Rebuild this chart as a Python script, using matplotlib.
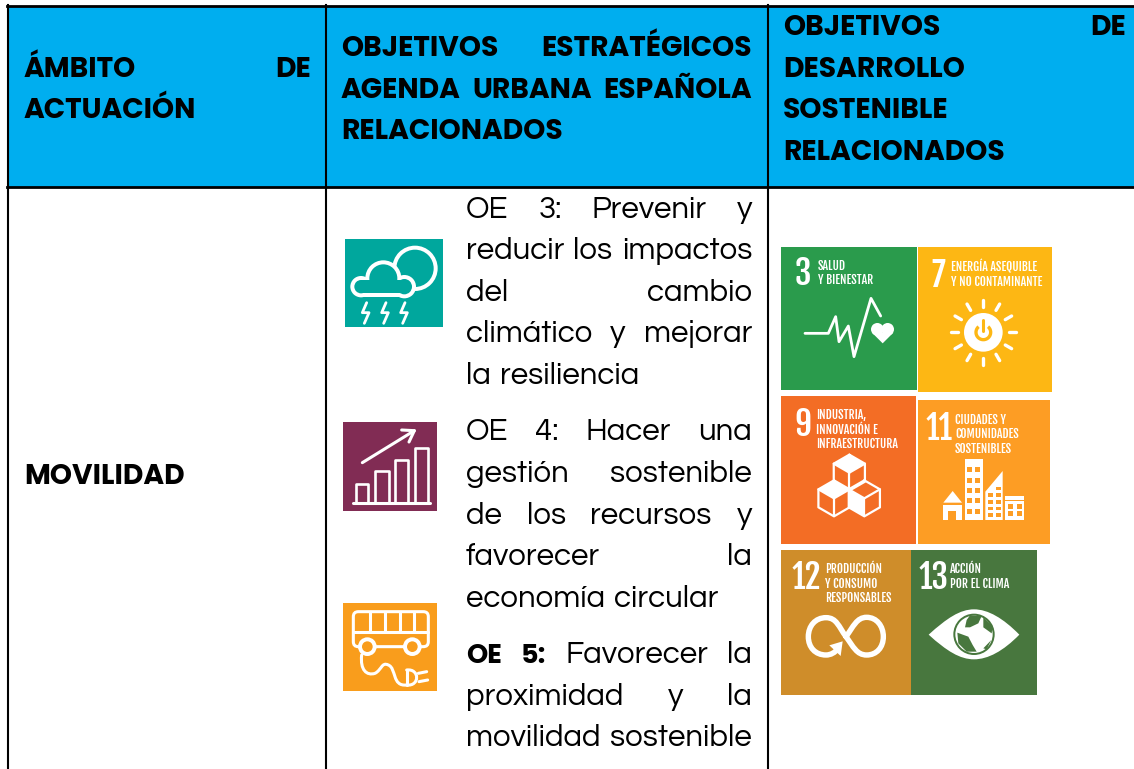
import numpy as np
import matplotlib
matplotlib.use("Agg")
import matplotlib.pyplot as plt
from matplotlib.patches import Rectangle, Circle, Polygon, PathPatch, FancyBboxPatch, Wedge
from matplotlib.path import Path

BODY_FONT = ["Questrial", "DejaVu Sans"]
HEAD_FONT = ["Poppins", "DejaVu Sans"]
NARROW_FONT = ["Fjalla One", "Oswald", "Liberation Sans"]

# table text
header_col1 = [("ÁMBITO DE", True, 77), ("ACTUACIÓN", False, 118)]
header_col2 = [("OBJETIVOS ESTRATÉGICOS", True, 56), ("AGENDA URBANA ESPAÑOLA", True, 98), ("RELACIONADOS", False, 139)]
header_col3 = [("OBJETIVOS DE", True, 35), ("DESARROLLO", False, 77), ("SOSTENIBLE", False, 118), ("RELACIONADOS", False, 160)]
row_label = "MOVILIDAD"
body_lines = [
    ("OE 3: Prevenir y", True, 218), ("reducir los impactos", True, 259), ("del cambio", True, 301),
    ("climático y mejorar", True, 342), ("la resiliencia", False, 384),
    ("OE 4: Hacer una", True, 440), ("gestión sostenible", True, 482), ("de los recursos y", True, 524),
    ("favorecer la", True, 565), ("economía circular", False, 607),
    ("OE 5: Favorecer la", True, 663), ("proximidad y la", True, 705), ("movilidad sostenible", True, 746),
]
bold_words = {"OE 5: Favorecer la": 2}

# SDG tiles
sdg_numbers = ["3", "7", "9", "11", "12", "13"]
sdg_labels = [["SALUD", "Y BIENESTAR"], ["ENERGÍA ASEQUIBLE", "Y NO CONTAMINANTE"],
              ["INDUSTRIA,", "INNOVACIÓN E", "INFRAESTRUCTURA"], ["CIUDADES Y", "COMUNIDADES", "SOSTENIBLES"],
              ["PRODUCCIÓN", "Y CONSUMO", "RESPONSABLES"], ["ACCIÓN", "POR EL CLIMA"]]
sdg_colors = ["#2A9B4C", "#FDB714", "#F36D25", "#FD9D24", "#CF8D2A", "#48773E"]
sdg_boxes = [(781, 247, 917, 390), (918, 247, 1052, 392), (781, 396, 916, 544),
             (918, 400, 1050, 544), (781, 550, 911, 695), (911, 550, 1037, 695)]
num_pos = [(795, 285), (931, 287), (794, 436), (926, 440), (792, 589), (919, 589)]
label_pos = [(818, 270), (951, 271), (816, 419), (955, 424), (825, 573), (950, 573)]

fig = plt.figure(figsize=(11.34, 7.69), dpi=100)
ax = fig.add_axes([0, 0, 1, 1])
ax.set_xlim(0, 1134)
ax.set_ylim(769, 0)
ax.axis("off")
renderer = fig.canvas.get_renderer()

WHITE = "white"


def place_line(text, justify, base, x0, x1, size, bold_all=False, n_bold=0):
    words = text.split(" ")
    items = []
    for i, w in enumerate(words):
        is_bold = bold_all or i < n_bold
        items.append(ax.text(x0, base, w, fontsize=size if not is_bold or bold_all else size - 3,
                             family=HEAD_FONT if is_bold else BODY_FONT,
                             fontweight="bold" if is_bold else "normal",
                             color="black", va="baseline", ha="left"))
    widths = [t.get_window_extent(renderer).width for t in items]
    if justify and len(words) > 1:
        gap = (x1 - x0 - sum(widths)) / (len(words) - 1)
    else:
        gap = size * 0.4
    x = x0
    for t, w in zip(items, widths):
        t.set_x(x)
        x += w + gap


def stroke(pts, off, lw=2.2, color=WHITE, scale=1 / 3, zorder=4):
    pts = np.array(pts, dtype=float) * scale + off
    ax.plot(pts[:, 0], pts[:, 1], color=color, lw=lw, solid_capstyle="round", solid_joinstyle="round", zorder=zorder)


def disc(c, r, off, color, scale=1 / 3, zorder=3):
    ax.add_patch(Circle((c[0] * scale + off[0], c[1] * scale + off[1]), r * scale, fc=color, ec="none", zorder=zorder))


def fill(pts, off, color=WHITE, scale=1 / 3, zorder=3):
    pts = np.array(pts, dtype=float) * scale + off
    ax.add_patch(Polygon(pts, closed=True, fc=color, ec="none", zorder=zorder))


def box(x0, y0, x1, y1, off, color=WHITE, scale=1 / 3, zorder=3):
    ax.add_patch(Rectangle((x0 * scale + off[0], y0 * scale + off[1]), (x1 - x0) * scale, (y1 - y0) * scale,
                           fc=color, ec="none", zorder=zorder))


def curve(verts, off, lw=3.8, color=WHITE, scale=1 / 3):
    verts = np.array(verts, dtype=float) * scale + off
    codes = [Path.MOVETO] + [Path.CURVE4] * (len(verts) - 1)
    ax.add_patch(PathPatch(Path(verts, codes), fc="none", ec=color, lw=lw, capstyle="round", zorder=4))


# header fill and grid
ax.add_patch(Rectangle((8, 6), 1134, 181, fc="#00AEEF", ec="none", zorder=0))
for x in [8, 326, 768]:
    ax.plot([x, x], [5, 769], color="black", lw=1.5, zorder=5)
for y in [6, 187]:
    ax.plot([7, 1134], [y, y], color="black", lw=2.0, zorder=5)

# header text
HEAD_SIZE = 20.3
for text, just, base in header_col1:
    place_line(text, just, base, 24, 311, HEAD_SIZE, bold_all=True)
for text, just, base in header_col2:
    place_line(text, just, base, 341, 752, HEAD_SIZE, bold_all=True)
for text, just, base in header_col3:
    place_line(text, just, base, 783, 1126, HEAD_SIZE, bold_all=True)
place_line(row_label, False, 484, 24, 186, HEAD_SIZE, bold_all=True)

for text, just, base in body_lines:
    place_line(text, just, base, 466, 752, 22.5, n_bold=bold_words.get(text, 0))

# climate icon
TEAL = "#00A79D"
ax.add_patch(Rectangle((345, 239), 98, 88, fc=TEAL, ec="none", zorder=2))
o = (335, 230)
disc((240, 115), 68, o, WHITE)
disc((240, 115), 56, o, TEAL)
for c, r in [((78, 170), 32), ((145, 145), 54), ((208, 170), 35)]:
    disc(c, r, o, WHITE)
box(78, 170, 208, 202, o)
for c, r in [((78, 170), 20), ((145, 145), 42), ((208, 170), 23)]:
    disc(c, r, o, TEAL)
box(78, 150, 208, 190, o, TEAL)
for dx in [0, 58, 115]:
    stroke([(95 + dx, 218), (82 + dx, 248), (102 + dx, 248), (88 + dx, 280)], o, lw=2.0)

# resources icon
ax.add_patch(Rectangle((343, 422), 94, 89, fc="#812C54", ec="none", zorder=2))
for x0, y0, x1 in [(62, 762, 100), (120, 722, 162), (180, 690, 220), (240, 655, 280)]:
    stroke([(x0, 820), (x0, y0), (x1, y0), (x1, 820)], o, lw=1.9)
stroke([(55, 820), (285, 820)], o, lw=2.2)
stroke([(82, 698), (238, 602)], o, lw=2.2)
stroke([(200, 600), (238, 602), (222, 636)], o, lw=2.2)

# bus icon
ORANGE = "#F99D1C"
ax.add_patch(Rectangle((343, 603), 94, 88, fc=ORANGE, ec="none", zorder=2))
o2 = (335, 590)
ax.add_patch(FancyBboxPatch((335 + 55 / 3, 590 + 65 / 3), 225 / 3, 105 / 3, boxstyle="round,pad=0,rounding_size=5",
                            fc="none", ec=WHITE, lw=2.2, zorder=4))
stroke([(55, 125), (280, 125)], o2)
for x in [105, 150, 195, 238]:
    stroke([(x, 65), (x, 125)], o2)
for cx in [97, 232]:
    disc((cx, 170), 28, o2, WHITE, zorder=4)
    disc((cx, 170), 16, o2, ORANGE, zorder=4)
curve([(80, 195), (75, 240), (95, 258), (120, 250), (140, 240), (140, 215), (160, 225), (185, 235), (170, 290), (215, 285)], o2, lw=2.2)
curve([(215, 240), (255, 235), (255, 290), (215, 285)], o2, lw=2.2)
stroke([(215, 240), (215, 285)], o2)
stroke([(250, 250), (275, 245)], o2)
stroke([(252, 275), (278, 270)], o2)

# SDG tiles
for num, lab, col, b, np_, lp in zip(sdg_numbers, sdg_labels, sdg_colors, sdg_boxes, num_pos, label_pos):
    ax.add_patch(Rectangle((b[0], b[1]), b[2] - b[0], b[3] - b[1], fc=col, ec="none", zorder=2))
    ax.text(np_[0], np_[1], num, fontsize=24, family=NARROW_FONT, color=WHITE, va="baseline", ha="left", zorder=6)
    for i, line in enumerate(lab):
        ax.text(lp[0], lp[1] + i * 14.5, line, fontsize=8.6, family=NARROW_FONT, color=WHITE,
                va="baseline", ha="left", zorder=6)

# heartbeat
o3 = (770, 240)
stroke([(105, 280), (175, 280), (197, 230), (207, 305), (235, 258), (252, 350), (303, 175), (332, 228)], o3, lw=2.0)
disc((322, 268), 19, o3, WHITE)
disc((353, 268), 19, o3, WHITE)
fill([(306, 278), (370, 278), (338, 310)], o3)

# sun
c7 = np.array((640, 277))
for a in np.arange(0, 360, 30):
    u = np.array((np.cos(np.radians(a)), np.sin(np.radians(a))))
    stroke([c7 + u * 76, c7 + u * 98], o3, lw=2.4)
disc(c7, 58, o3, WHITE)
ax.add_patch(Wedge((770 + 640 / 3, 240 + 277 / 3), 27 / 3, -50, 230, width=10 / 3, fc="#FDB714", ec="none", zorder=4))
stroke([c7 + (0, -36), c7 + (0, -5)], o3, lw=2.2, color="#FDB714")

# cubes
o4 = (770, 390)
cube_centers = [(238, 248), (192, 325), (283, 325)]
for n, c in enumerate(cube_centers):
    r = 54
    v = [(c[0] + r * np.cos(np.radians(a)), c[1] + r * np.sin(np.radians(a))) for a in [-90, -30, 30, 90, 150, 210]]
    stroke(v + [v[0]], o4, lw=1.6)
    for k in [1, 3, 5]:
        stroke([c, v[k]], o4, lw=1.6)
    if n < 2:
        fill([v[0], v[1], c, v[5]], o4, zorder=4)
    else:
        fill([v[5], c, v[3], v[4]], o4, zorder=4)

# city
BLD = "#FD9D24"
fill([(520, 338), (548, 303), (576, 338)], o4)
box(518, 345, 576, 390, o4)
box(535, 362, 559, 390, o4, BLD)
box(584, 208, 638, 390, o4)
for row in range(5):
    for cx in [590, 614]:
        box(cx, 232 + row * 31, cx + 15, 247 + row * 31, o4, BLD, zorder=4)
fill([(646, 390), (646, 305), (698, 243), (698, 390)], o4)
for row in range(5):
    for cx in [654, 678]:
        if row > 0 or cx > 670:
            box(cx, 290 + row * 20, cx + 15, 301 + row * 20, o4, BLD, zorder=4)
box(706, 318, 762, 390, o4)
box(706, 330, 762, 334, o4, BLD, zorder=4)
for row in range(2):
    for cx in [714, 740]:
        box(cx, 342 + row * 22, cx + 16, 356 + row * 22, o4, BLD, zorder=4)

# infinity
o5 = (770, 540)
curve([(228, 290), (250, 260), (260, 232), (290, 232), (320, 232), (340, 258), (340, 290), (340, 322), (320, 345),
       (290, 345), (260, 345), (250, 320), (228, 290), (206, 260), (200, 233), (168, 233), (136, 233), (115, 258),
       (115, 290), (115, 322), (136, 345), (168, 345), (182, 345), (195, 338), (205, 325)], o5, lw=3.9)
fill([(178, 316), (218, 304), (212, 348)], o5, zorder=4)

# eye
lens = Path(np.array([(476, 284), (530, 235), (570, 208), (612, 208), (654, 208), (700, 235), (748, 284), (700, 333),
                      (654, 358), (612, 358), (570, 358), (530, 333), (476, 284)], dtype=float) / 3 + o5,
            [Path.MOVETO] + [Path.CURVE4] * 12)
ax.add_patch(PathPatch(lens, fc=WHITE, ec="none", zorder=3))
disc((612, 283), 62, o5, "#48773E", zorder=4)
disc((612, 283), 56, o5, WHITE, zorder=4)
fill([(600, 226), (635, 228), (625, 250), (600, 262), (585, 262), (590, 240)], o5, "#48773E", zorder=5)
fill([(640, 232), (668, 258), (665, 280), (640, 262)], o5, "#48773E", zorder=5)
fill([(562, 278), (595, 290), (608, 315), (620, 335), (590, 335), (565, 310)], o5, "#48773E", zorder=5)
fill([(640, 325), (664, 300), (650, 328)], o5, "#48773E", zorder=5)

fig.savefig("out.png", dpi=100)
